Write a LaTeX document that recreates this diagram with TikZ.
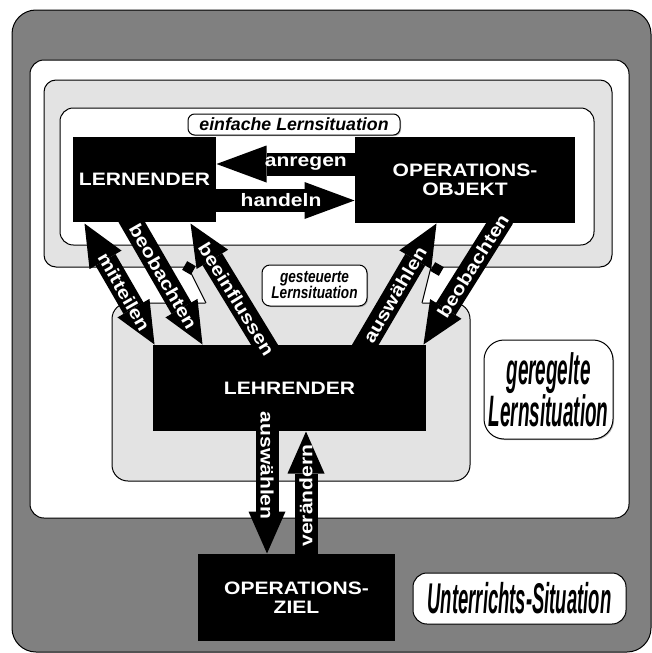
\documentclass[tikz,border=0pt]{standalone}
\usepackage{fontspec}
\newfontfamily\boxfont[FakeStretch=1.17]{Liberation Sans}
\newfontfamily\tagfont{Liberation Sans}
\newfontfamily\slimfont[FakeStretch=0.8]{Liberation Sans}
\newfontfamily\thinfont[FakeStretch=0.43]{Liberation Sans}
\usetikzlibrary{arrows.meta,calc,shadows}

\definecolor{outergray}{RGB}{128,128,128}
\definecolor{situgray}{RGB}{227,227,227}

\tikzset{every picture/.style={line width=0.75pt}}
\tikzset{
  bigtip/.tip={Triangle[width=27.75pt,length=31.5pt,line width=0pt]},
  longtip/.tip={Triangle[width=27.75pt,length=37.5pt,line width=0pt]},
  blockarrow/.style={line width=17.25pt},
  actor/.style={fill=black, text=white, inner sep=0pt, align=center, font=\boxfont\bfseries\fontsize{13.5}{14.6}\selectfont},
  arrowtext/.style={text=white, inner sep=0pt, font=\boxfont\bfseries\fontsize{13.5}{16}\selectfont},
  tag/.style={draw=black, fill=white, line width=0.75pt, inner sep=0pt, align=center, drop shadow={shadow xshift=0.8pt, shadow yshift=-0.8pt, fill=black!55}},
}

\begin{document}
\begin{tikzpicture}[x=0.75pt,y=0.75pt,yscale=-1,xscale=1]
\useasboundingbox (0,0) rectangle (652,653);

%Shape: Rounded Rect [Unterrichts-Situation]
\draw [fill=outergray, rounded corners=18pt] (12,10) rectangle (651,652) ;
%Shape: Rounded Rect [geregelte Lernsituation]
\draw [fill=white, rounded corners=10.5pt] (30,60) rectangle (629,518) ;
%Shape: Rounded Rect [gesteuerte Lernsituation, oben]
\draw [fill=situgray, rounded corners=9pt] (44,80) rectangle (612,267) ;
%Shape: Rounded Rect [gesteuerte Lernsituation, unten]
\draw [fill=situgray, rounded corners=12pt] (112,303) rectangle (470,481) ;
%Shape: Polygon [Verbindung]
\fill [situgray] (187,265.5) -- (206,304.5) -- (422,304.5) -- (432,265.5) -- cycle ;
\draw (188,267) -- (206,303) ;
\draw (431,267) -- (422,303) ;
%Shape: Rounded Rect [einfache Lernsituation]
\draw [fill=white, rounded corners=10pt] (60,108) rectangle (594,245) ;

% Text Node
\node [tag, rounded corners=5pt, minimum width=159pt, minimum height=15.75pt, font=\tagfont\bfseries\itshape\fontsize{13.3}{15}\selectfont] (einfach) at (294,124.5) {einfache Lernsituation};
% Text Node
\node [tag, rounded corners=6pt, minimum width=78.75pt, minimum height=30.75pt, font=\slimfont\bfseries\itshape\fontsize{12.75}{12}\selectfont] (gesteuert) at (314.5,285.5) {gesteuerte\\Lernsituation};
% Text Node
\node [tag, rounded corners=15pt, minimum width=96.75pt, minimum height=74.25pt, font=\thinfont\bfseries\itshape\fontsize{33}{30}\selectfont] (geregelt) at (548.5,389.5) {geregelte\\Lernsituation};
% Text Node
\node [tag, rounded corners=10.5pt, minimum width=159.75pt, minimum height=38.25pt, font=\thinfont\bfseries\itshape\fontsize{32.25}{34}\selectfont] (unterricht) at (519.5,598.5) {Unterrichts-Situation};

% Boxes
\node [actor, minimum width=107.25pt, minimum height=63.75pt] (lern) at (144.5,179.5) {LERNENDER};
\node [actor, minimum width=165pt, minimum height=64.5pt] (objekt) at (465,180) {OPERATIONS-\\OBJEKT};
\node [actor, minimum width=204.75pt, minimum height=64.5pt] (lehr) at (289.5,388) {LEHRENDER};
\node [actor, minimum width=147.75pt, minimum height=65.25pt] (ziel) at (296.5,597.5) {OPERATIONS-\\ZIEL};

% Arrows zwischen LERNENDER und OPERATIONS-OBJEKT
\draw [blockarrow, -longtip] ($(objekt.west)+(5,-16)$) coordinate (anr) -- (anr -| lern.east) node [arrowtext, pos=0.375] {anregen} ;
\draw [blockarrow, -longtip] ($(lern.east)+(-5,21)$) coordinate (han) -- (han -| objekt.west) node [arrowtext, pos=0.486] {handeln} ;

% Arrows zum LEHRENDER
\draw [blockarrow, bigtip-bigtip] ($(lern.south west)+(12,1)$) -- ($(lehr.north west)+(2,0)$) node [arrowtext, rotate=-60.2, pos=0.566] {mitteilen} ;
\draw [blockarrow, -bigtip] ($(lern.south west)+(56,-6)$) -- ($(lehr.north west)+(50,0)$) node [arrowtext, rotate=-60.2, pos=0.47] {beobachten} ;
\draw [blockarrow, -bigtip] ($(lehr.north west)+(124,20)$) -- ($(lern.south east)+(-26,1)$) node [arrowtext, rotate=-58.5, pos=0.465] {beeinflussen} ;
\draw [blockarrow, -bigtip] ($(lehr.north east)+(-64.5,6)$) -- ($(objekt.south west)+(82,0)$) node [arrowtext, rotate=59.5, pos=0.44] {auswählen} ;
\draw [blockarrow, -bigtip] ($(objekt.south west)+(148.7,-6)$) -- ($(lehr.north east)+(-3,0)$) node [arrowtext, rotate=57.8, pos=0.38] {beobachten} ;

% Arrows zwischen LEHRENDER und OPERATIONS-ZIEL
\draw [blockarrow, -bigtip] ($(ziel.north)+(-29.5,-149)$) -- ($(ziel.north)+(-29.5,0)$) node [arrowtext, rotate=-90, pos=0.41] {auswählen} ;
\draw [blockarrow, -bigtip] ($(ziel.north)+(9.5,6)$) coordinate (ver) -- (ver |- lehr.south) node [arrowtext, rotate=90, pos=0.5] {verändern} ;

%Shape: Square
\fill [rotate around={30:(189,268)}] (184,263) rectangle (194,273) ;
%Shape: Square
\fill [rotate around={30:(437,269)}] (432,264) rectangle (442,274) ;

\end{tikzpicture}
\end{document}
